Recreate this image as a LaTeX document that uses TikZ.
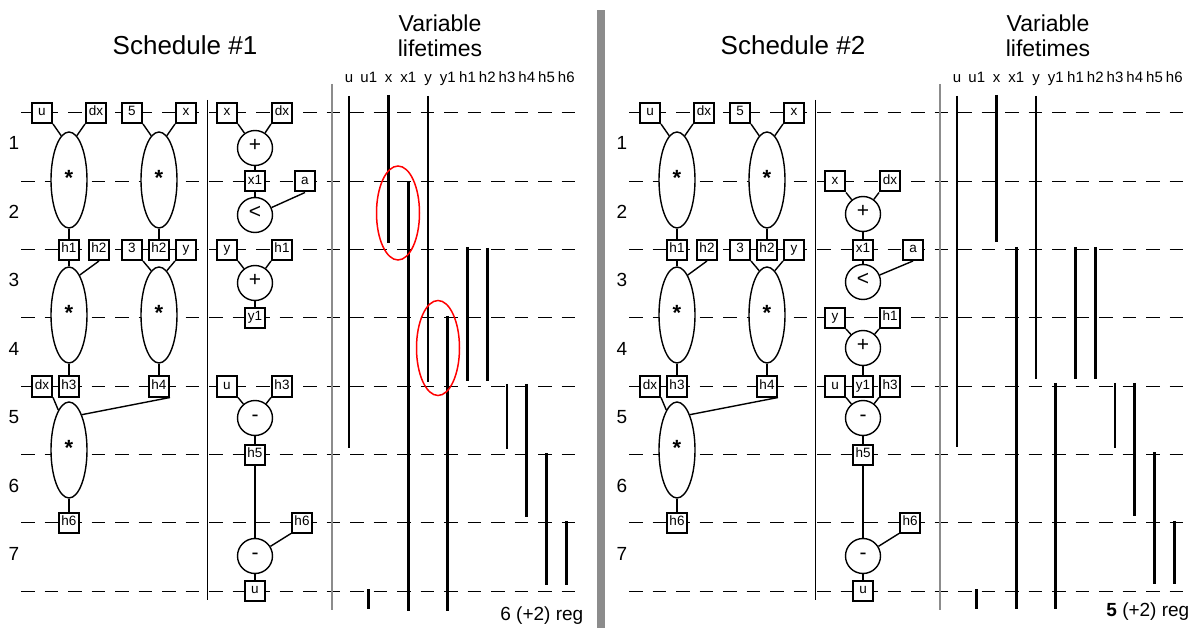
\documentclass[tikz,border=0pt]{standalone}
\usepackage{fontspec}
\setmainfont{Liberation Sans}
\usetikzlibrary{shapes.geometric}
\definecolor{bargray}{gray}{0.55}

\begin{document}
\begin{tikzpicture}
  [x=1pt,y=-1pt,line width=1.4pt,
   box/.style={draw,line width=2pt,fill=white,minimum size=20pt,inner sep=0.5pt,
     font=\fontsize{13.5}{15}\selectfont,text height=0.72em,text depth=0.2em},
   mul/.style={ellipse,draw,fill=white,minimum width=36pt,minimum height=96pt,inner sep=0pt,
     font=\fontsize{22}{24}\selectfont\bfseries,text height=1.14em,text depth=0pt},
   op/.style={circle,draw,fill=white,minimum size=35pt,inner sep=0pt,
     font=\fontsize{21}{23}\selectfont,text height=0.7em,text depth=0pt},
   slot/.style={line width=1pt,dash pattern=on 13.5pt off 10pt},
   life/.style={line width=2.8pt},
   ring/.style={red,line width=1.5pt},
   title/.style={font=\fontsize{26}{28}\selectfont},
   subtitle/.style={align=center,font=\fontsize{23}{25}\selectfont},
   num/.style={font=\fontsize{19}{21}\selectfont},
   lhead/.style={inner sep=0pt,font=\fontsize{15}{16}\selectfont,text height=0.72em,text depth=0.2em},
   regtext/.style={inner sep=0pt,font=\fontsize{19}{21}\selectfont}]
  \useasboundingbox (0,0) rectangle (1200,628);

  \fill[bargray] (597,10) rectangle (605,628);

  \foreach \s/\o/\n in {A/0/1,B/608/2}{
    \begin{scope}[xshift=\o pt]
      \node[title] (sched\s) at (185,45) {Schedule \#\n};
      \node[subtitle] (vl\s) at (440,36) {Variable\\lifetimes};
      \foreach \r in {1,...,7}
        \node[num] (row\s\r) at (14,{143+(\r-1)*68.5}) {\r};
      \foreach \k in {0,...,7}
        \draw[slot] (21,{113+\k*68.3}) -- (578,{113+\k*68.3});
      \draw[line width=0.9pt] (207,100) -- (207,600);
      \draw[bargray,line width=2pt] (332,84) -- (332,610);
      \foreach \v [count=\i from 0] in {u,u1,x,x1,y,y1,h1,h2,h3,h4,h5,h6}
        \node[lhead] (var\s\i) at ({349+19.75*\i},80) {\v};

      \node[box] (u\s) at (42,113) {u};
      \node[box] (dx\s) at (96,113) {dx};
      \node[box] (five\s) at (132,113) {5};
      \node[box] (x\s) at (186,113) {x};
      \node[mul] (m1\s) at (69,180) {*};
      \node[mul] (m2\s) at (159,180) {*};
      \node[box] (h1\s) at (69,250) {h1};
      \node[box] (h2\s) at (99,250) {h2};
      \node[box] (three\s) at (132,250) {3};
      \node[box] (h2r\s) at (159,250) {h2};
      \node[box] (y\s) at (186,250) {y};
      \node[mul] (m3\s) at (69,315) {*};
      \node[mul] (m4\s) at (159,315) {*};
      \node[box] (dxx\s) at (42,386.5) {dx};
      \node[box] (h3\s) at (69,386.5) {h3};
      \node[box] (h4\s) at (159,386.5) {h4};
      \node[mul] (m5\s) at (69,450) {*};
      \node[box] (h6\s) at (69,522.5) {h6};

      \foreach \a/\p/\b/\q in {u/south east/m1/100,dx/south west/m1/80,
          five/south east/m2/100,x/south west/m2/80,m1/south/h1/north,m2/south/h2r/north,
          h1/south/m3/north,h2/south/m3/75,three/south east/m4/100,y/south west/m4/80,
          m3/south/h3/north,m4/south/h4/north,dxx/south east/m5/105,h4/south east/m5/70,
          m5/south/h6/north}
        \draw (\a\s.\p) -- (\b\s.\q);
    \end{scope}
  }

  \node[box] (xbA) at (227,113) {x};
  \node[box] (dxbA) at (282,113) {dx};
  \node[op] (p1A) at (255,148) {+};
  \node[box] (x1A) at (255,181.5) {x1};
  \node[box] (aA) at (305,181.5) {a};
  \node[op] (ltA) at (255,215) {<};
  \node[box] (ybA) at (227,250) {y};
  \node[box] (h1bA) at (282,250) {h1};
  \node[op] (p2A) at (255,283) {+};
  \node[box] (y1A) at (255,318) {y1};
  \node[box] (ubA) at (227,386.5) {u};
  \node[box] (h3bA) at (282,386.5) {h3};
  \node[op] (s1A) at (255,418) {-};
  \node[box] (h5A) at (255,454.5) {h5};
  \node[box] (h6bA) at (302,522.5) {h6};
  \node[op] (s2A) at (255,556) {-};
  \node[box] (ub2A) at (255,591) {u};

  \foreach \a/\b in {xbA.south east/p1A,dxbA.south west/p1A,p1A.south/x1A.north,
      x1A.south/ltA.north,aA.south/ltA,ybA.south east/p2A,h1bA.south west/p2A,
      p2A.south/y1A.north,ubA.south east/s1A,h3bA.south west/s1A,s1A.south/h5A.north,
      h5A.south/s2A.north,h6bA.south west/s2A,s2A.south/ub2A.north}
    \draw (\a) -- (\b);

  \node[box] (xbB) at (835,181.5) {x};
  \node[box] (dxbB) at (890,181.5) {dx};
  \node[op] (p1B) at (863,214) {+};
  \node[box] (x1B) at (863,250) {x1};
  \node[box] (aB) at (913,250) {a};
  \node[op] (ltB) at (863,282) {<};
  \node[box] (ybB) at (835,318) {y};
  \node[box] (h1bB) at (890,318) {h1};
  \node[op] (p2B) at (863,348) {+};
  \node[box] (ubB) at (835,386.5) {u};
  \node[box] (y1B) at (863,386.5) {y1};
  \node[box] (h3bB) at (890,386.5) {h3};
  \node[op] (s1B) at (863,418) {-};
  \node[box] (h5B) at (863,454.5) {h5};
  \node[box] (h6bB) at (910,522.5) {h6};
  \node[op] (s2B) at (863,556) {-};
  \node[box] (ub2B) at (863,591) {u};

  \foreach \a/\b in {xbB.south east/p1B,dxbB.south west/p1B,p1B.south/x1B.north,
      x1B.south/ltB.north,aB.south/ltB,ybB.south east/p2B,h1bB.south west/p2B,
      p2B.south/y1B.north,ubB.south east/s1B,h3bB.south west/s1B,s1B.south/h5B.north,
      h5B.south/s2B.north,h6bB.south west/s2B,s2B.south/ub2B.north}
    \draw (\a) -- (\b);

  \foreach \i/\t/\b in {0/96/448,1/589/609,2/95/243,3/181/611,4/96/382,5/316/611,
      6/247/381,7/248/381,8/384/449,9/384/517,10/453/585,11/521/585}
    \draw[life] ({349+19.75*\i},\t) -- ({349+19.75*\i},\b);
  \foreach \i/\t/\b in {0/96/447,1/589/609,2/95/242,3/247/609,4/96/379,5/383/609,
      6/247/379,7/247/379,8/383/448,9/383/516,10/452/584,11/521/584}
    \draw[life] ({957+19.75*\i},\t) -- ({957+19.75*\i},\b);

  \draw[ring] (398,213) ellipse [x radius=21.5pt,y radius=47pt];
  \draw[ring] (438,348) ellipse [x radius=21.5pt,y radius=47.5pt];

  \node[regtext,anchor=east] (regA) at (584,616) {6 (+2) reg};
  \node[regtext,anchor=east] (regB) at (1190,612) {\textbf{5} (+2) reg};
\end{tikzpicture}
\end{document}
